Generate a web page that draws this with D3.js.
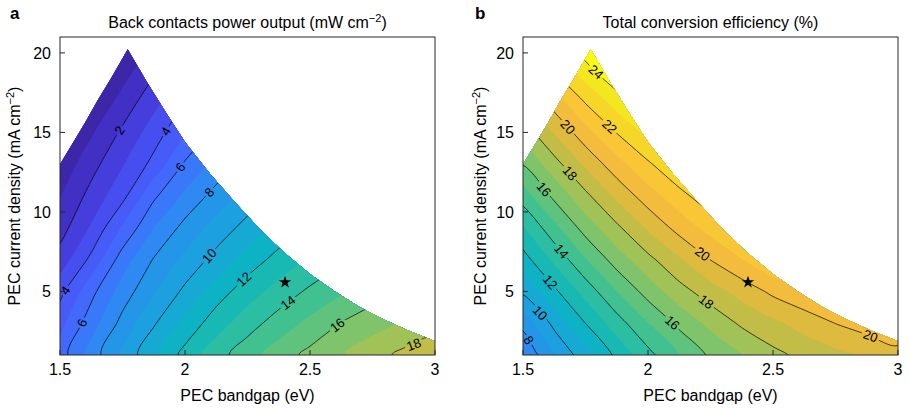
<!DOCTYPE html>
<html><head><meta charset="utf-8">
<script src="https://cdn.jsdelivr.net/npm/d3@7"></script>
<style>
body{margin:0;background:#fff;}
text{font-family:"Liberation Sans",Arial,Helvetica,sans-serif;}
</style></head><body>
<svg id="c" width="910" height="411"></svg>
<script>
// ---------------- data ----------------
const bandgapGrid = [1.5,1.625,1.75,1.875,2.0,2.125,2.25,2.375,2.5,2.625,2.75,2.875,3.0];
const currentGrid = [1,3,5,7,9,11,13,15,17,19,21];
// back contacts power output (mW cm-2), one row per current value (bottom to top)
const powerOutput = [
 [5.5, 7.45, 9.22, 10.85, 12.33, 13.58, 14.59, 15.49, 16.28, 16.94, 17.59, 18.25, 18.75],
 [4.67, 6.56, 8.33, 9.88, 11.31, 12.53, 13.56, 14.46, 15.26, 16.04, 16.61, 17.1, 17.45],
 [3.7, 5.7, 7.45, 8.9, 10.23, 11.51, 12.53, 13.39, 14.19, 14.86, 15.52, 16.15, 16.7],
 [2.43, 4.25, 6.49, 8.07, 9.24, 10.37, 11.45, 12.36, 13.09, 13.82, 14.48, 15.1, 15.65],
 [1.58, 3.12, 5.13, 6.98, 8.33, 9.37, 10.38, 11.32, 12.17, 12.77, 13.37, 13.98, 14.5],
 [0.95, 2.34, 3.7, 5.81, 7.21, 8.39, 9.36, 10.27, 11.09, 11.9, 12.55, 13.1, 13.6],
 [0.3, 1.63, 2.92, 4.31, 6.14, 7.3, 8.36, 9.25, 10.1, 10.9, 11.6, 12.2, 12.7],
 [-0.44, 0.87, 2.18, 3.49, 4.89, 6.3, 7.3, 8.4, 9.2, 10.0, 10.7, 11.3, 11.8],
 [-1.3, 0.03, 1.34, 2.66, 4.0, 5.2, 6.4, 7.4, 8.3, 9.1, 9.8, 10.4, 10.9],
 [-2.1, -0.8, 0.5, 1.78, 3.1, 4.3, 5.5, 6.5, 7.4, 8.2, 8.9, 9.5, 10.0],
 [-3.0, -1.7, -0.4, 0.9, 2.2, 3.4, 4.6, 5.6, 6.5, 7.3, 8.0, 8.6, 9.1]
];
// total conversion efficiency (%)
const efficiency = [
 [7.14, 8.93, 10.65, 12.23, 13.68, 15.0, 16.18, 16.95, 17.72, 18.29, 18.74, 19.19, 19.64],
 [8.28, 10.3, 12.01, 13.55, 14.97, 16.26, 17.27, 18.17, 18.79, 19.4, 20.02, 20.45, 20.85],
 [10.19, 11.79, 13.4, 14.99, 16.42, 17.6, 18.54, 19.38, 20.23, 20.85, 21.5, 22.1, 22.6],
 [11.58, 13.22, 14.92, 16.48, 17.72, 18.88, 20.02, 20.97, 21.92, 22.7, 23.4, 24.0, 24.5],
 [12.9, 14.7, 16.43, 17.79, 19.15, 20.37, 21.39, 22.36, 23.2, 23.9, 24.5, 25.0, 25.4],
 [14.5, 16.24, 17.75, 19.23, 20.53, 21.64, 22.69, 23.71, 24.5, 25.1, 25.6, 26.0, 26.4],
 [16.04, 17.61, 19.2, 20.61, 21.83, 23.0, 24.15, 25.0, 25.7, 26.3, 26.8, 27.2, 27.6],
 [17.41, 19.08, 20.63, 22.04, 23.28, 24.5, 25.4, 26.1, 26.7, 27.2, 27.6, 28.0, 28.3],
 [18.86, 20.5, 22.14, 23.51, 24.8, 25.9, 26.7, 27.4, 28.0, 28.5, 28.9, 29.2, 29.5],
 [20.32, 22.17, 23.68, 25.1, 26.2, 27.1, 27.9, 28.5, 29.1, 29.6, 30.0, 30.3, 30.6],
 [22.27, 23.64, 25.0, 26.2, 27.2, 28.1, 28.9, 29.5, 30.1, 30.6, 31.0, 31.3, 31.6]
];
// feasible region boundary
const boundaryBandgap = [1.5, 1.5, 1.55, 1.6, 1.65, 1.7, 1.771, 1.85, 1.93, 2.0, 2.1, 2.2, 2.3, 2.4, 2.5, 2.6, 2.7, 2.8, 2.9, 3.0, 3.0];
const boundaryCurrent = [1, 13.0, 14.3, 15.6, 17.0, 18.3, 20.23, 18.1, 16.1, 14.4, 12.4, 10.6, 8.9, 7.4, 6.1, 5.0, 4.0, 3.2, 2.5, 1.88, 1];
const powerLevels = [2,4,6,8,10,12,14,16,18];
const effLevels = [8,10,12,14,16,18,20,22,24];
const powerLabelLevels = [2, 4, 4, 6, 6, 8, 10, 12, 14, 16, 18];
const powerLabelBandgap = [1.745, 1.913, 1.527, 1.987, 1.587, 2.1, 2.093, 2.233, 2.407, 2.607, 2.92];
const powerLabelCurrent = [15.06, 15.17, 5.0, 12.76, 3.03, 11.2, 7.3, 5.8, 4.39, 2.93, 1.46];
const effLabelLevels = [24, 22, 20, 20, 20, 18, 18, 16, 16, 14, 12, 10, 8];
const effLabelBandgap = [1.788, 1.841, 1.674, 2.215, 2.88, 1.685, 2.224, 1.582, 2.094, 1.654, 1.609, 1.569, 1.522];
const effLabelCurrent = [18.73, 15.27, 15.27, 7.3, 1.75, 12.4, 4.15, 11.4, 2.98, 7.53, 5.6, 3.66, 1.93];
const starBandgap = 2.4, starCurrent = 5.58;
const xTicks = [1.5, 2, 2.5, 3];
const yTicks = [5, 10, 15, 20];
const colorLimits = [0, 24];

// ---------------- style ----------------
const parulaStops = ["#3e26a8","#4435d0","#474cee","#4662fb","#3a78fa","#2c8cf0","#2298e6","#1aa5da","#0db2c4","#1fbcab","#3fc191","#6ac476","#99c35a","#c2bd46","#e4b93c","#fbbd3d","#f6cf2c","#f2e322","#f9fb15"];
const parulaPos   = [0.00, 0.06, 0.12, 0.19, 0.25, 0.30, 0.34, 0.40, 0.46, 0.52, 0.58, 0.64, 0.70, 0.75, 0.80, 0.85, 0.90, 0.95, 1.00];
const parulaScale = d3.scaleLinear().domain(parulaPos).range(parulaStops).interpolate(d3.interpolateRgb).clamp(true);
const colorT = d3.scaleLinear().domain(colorLimits).range([0, 1]).clamp(true);

const svg = d3.select("#c");
const defs = svg.append("defs");
const AX = "#262626";

function drawPanel(o) {
  const x = d3.scaleLinear().domain([1.5, 3]).range([o.left, o.right]);
  const y = d3.scaleLinear().domain([1, 21]).range([o.bottom, o.top]);
  const nx = bandgapGrid.length, ny = currentGrid.length;
  const flat = o.values.flat();
  const gx = d3.scaleLinear().domain([0.5, nx - 0.5]).range([x(bandgapGrid[0]), x(bandgapGrid[nx - 1])]);
  const gy = d3.scaleLinear().domain([0.5, ny - 0.5]).range([y(currentGrid[0]), y(currentGrid[ny - 1])]);
  const smooth = d3.line().curve(d3.curveCatmullRomClosed.alpha(0.5));
  const path = geo => geo.coordinates.map(poly => poly.map(ring =>
      smooth(ring.slice(0, -1).map(p => [gx(p[0]), gy(p[1])]))).join("")).join("");

  const bpts = boundaryBandgap.map((b, i) => [x(b), y(boundaryCurrent[i])]);
  defs.append("clipPath").attr("id", "clip" + o.id).append("path").attr("d", d3.line()(bpts) + "Z");
  const g = svg.append("g").attr("clip-path", `url(#clip${o.id})`);

  const lo = Math.floor(d3.min(flat)), hi = Math.ceil(d3.max(flat));
  const fills = d3.contours().size([nx, ny]).thresholds(d3.range(lo, hi + 1))(flat);
  g.selectAll("path.f").data(fills).join("path").attr("class", "f")
    .attr("d", path).attr("fill", d => parulaScale(colorT(Math.max(0, d.value))));

  const lines = d3.contours().size([nx, ny]).thresholds(o.levels)(flat);
  const mask = defs.append("mask").attr("id", "mask" + o.id).attr("maskUnits", "userSpaceOnUse")
    .attr("x", 0).attr("y", 0).attr("width", 910).attr("height", 411);
  mask.append("rect").attr("width", 910).attr("height", 411).attr("fill", "white");
  const lg = g.append("g").attr("mask", `url(#mask${o.id})`);
  lg.selectAll("path").data(lines).join("path").attr("d", path)
    .attr("fill", "none").attr("stroke", "#000").attr("stroke-width", 0.7);

  // inline labels
  const lab = svg.append("g");
  o.labelLevels.forEach((lev, k) => {
    const tx = x(o.labelX[k]), ty = y(o.labelY[k]);
    const geo = lines.find(c => c.value === lev);
    let best = null;
    geo.coordinates.forEach(poly => poly.forEach(ring => {
      for (let i = 0; i < ring.length - 1; i++) {
        const ax = gx(ring[i][0]), ay = gy(ring[i][1]), bx = gx(ring[i+1][0]), by = gy(ring[i+1][1]);
        const dx = bx - ax, dy = by - ay, L2 = dx*dx + dy*dy;
        if (L2 === 0) continue;
        let t = ((tx - ax)*dx + (ty - ay)*dy) / L2; t = Math.max(0, Math.min(1, t));
        const px = ax + t*dx, py = ay + t*dy, d = (px - tx)**2 + (py - ty)**2;
        if (!best || d < best.d) best = {d, px, py, dx, dy};
      }
    }));
    if (!best) return;
    let ang = Math.atan2(best.dy, best.dx) * 180 / Math.PI;
    if (ang > 90) ang -= 180; if (ang < -90) ang += 180;
    const t = lab.append("text").attr("transform", `translate(${best.px},${best.py}) rotate(${ang})`)
      .attr("text-anchor", "middle").attr("dy", "0.35em").attr("font-size", 13).attr("fill", "#000").text(lev);
    const w = t.node().getComputedTextLength() + 4;
    mask.append("rect").attr("x", -w/2).attr("y", -6).attr("width", w).attr("height", 12)
      .attr("transform", `translate(${best.px},${best.py}) rotate(${ang})`).attr("fill", "black");
  });

  // star
  svg.append("path").attr("d", d3.symbol(d3.symbolStar, 48)())
    .attr("transform", `translate(${x(starBandgap)},${y(starCurrent)})`).attr("fill", "#000");

  // frame and ticks
  svg.append("rect").attr("x", o.left).attr("y", o.top).attr("width", o.right - o.left).attr("height", o.bottom - o.top)
    .attr("fill", "none").attr("stroke", AX).attr("stroke-width", 1);
  const ax = svg.append("g").attr("stroke", AX).attr("stroke-width", 1);
  xTicks.forEach(v => ax.append("line").attr("x1", x(v)).attr("x2", x(v)).attr("y1", o.bottom).attr("y2", o.bottom - 5));
  yTicks.forEach(v => ax.append("line").attr("x1", o.left).attr("x2", o.left + 5).attr("y1", y(v)).attr("y2", y(v)));
  const tl = svg.append("g").attr("font-size", 16).attr("fill", "#000");
  xTicks.forEach(v => tl.append("text").attr("x", x(v)).attr("y", 375).attr("text-anchor", "middle").text(d3.format("")(v)));
  yTicks.forEach(v => tl.append("text").attr("x", o.left - 9).attr("y", y(v)).attr("dy", "0.36em").attr("text-anchor", "end").text(v));

  // axis titles
  svg.append("text").attr("x", (o.left + o.right)/2).attr("y", 401).attr("text-anchor", "middle")
    .attr("font-size", 16).text("PEC bandgap (eV)");
  const yl = svg.append("text").attr("transform", `translate(${o.yLabelX},${(o.top + o.bottom)/2}) rotate(-90)`)
    .attr("text-anchor", "middle").attr("font-size", 16);
  yl.append("tspan").text("PEC current density (mA cm");
  yl.append("tspan").attr("dy", -6).attr("font-size", 11).text("−2");
  yl.append("tspan").attr("dy", 6).text(")");

  const tt = svg.append("text").attr("x", (o.left + o.right)/2).attr("y", 28).attr("text-anchor", "middle").attr("font-size", 16);
  o.title.forEach(p => {
    const s = tt.append("tspan").text(p.t);
    if (p.sup) s.attr("dy", -6).attr("font-size", 11);
    if (p.down) s.attr("dy", 6);
  });
  svg.append("text").attr("x", o.letterX).attr("y", 18.5).attr("font-size", 17).attr("font-weight", "bold").text(o.letter);
}

drawPanel({id: "L", left: 60, right: 435, top: 37, bottom: 355, values: powerOutput, levels: powerLevels,
  labelLevels: powerLabelLevels, labelX: powerLabelBandgap, labelY: powerLabelCurrent,
  yLabelX: 20, letter: "a", letterX: 10,
  title: [{t: "Back contacts power output (mW cm"}, {t: "−2", sup: true}, {t: ")", down: true}]});
drawPanel({id: "R", left: 523, right: 898, top: 37, bottom: 355, values: efficiency, levels: effLevels,
  labelLevels: effLabelLevels, labelX: effLabelBandgap, labelY: effLabelCurrent,
  yLabelX: 486, letter: "b", letterX: 475,
  title: [{t: "Total conversion efficiency (%)"}]});
</script>
</body></html>
